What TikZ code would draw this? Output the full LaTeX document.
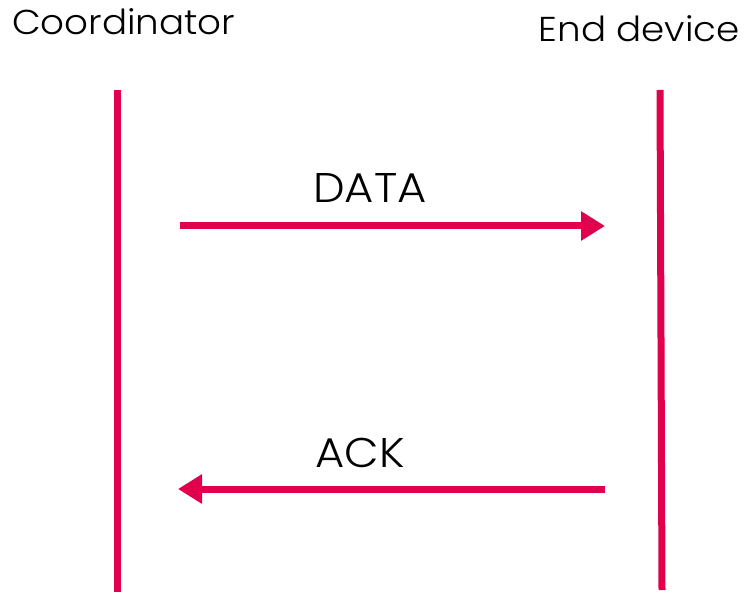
\documentclass[tikz,border=0pt]{standalone}
\usepackage{fontspec}
\setmainfont{Poppins Light}[FakeStretch=1.08]
\usetikzlibrary{arrows.meta}
\definecolor{crim}{HTML}{E0004D}
\tikzset{
  lifeline/.style={draw=crim, line width=7pt},
  msg/.style={draw=crim, line width=7pt, -{Triangle[length=24pt,width=28pt]}},
  title/.style={font=\fontsize{34.5}{36}\selectfont, inner sep=0pt, text=black},
  lbl/.style={font=\fontsize{41.5}{44}\selectfont, inner sep=0pt, text=black}
}
\begin{document}
\begin{tikzpicture}[x=1pt,y=1pt]
\useasboundingbox (0,0) rectangle (744,595);
\node[title, anchor=base west] (coord) at (12,560) {Coordinator};
\node[title, anchor=base east] (enddev) at (740,553) {End device};
\coordinate (lt) at (117,505);
\coordinate (lb) at (117,3);
\coordinate (rt) at (660,505);
\coordinate (rb) at (662,5);
\draw[lifeline] (lt) -- (lb);
\draw[lifeline] (rt) -- (rb);
\coordinate (d1) at (180,369);
\coordinate (d2) at (605,369);
\draw[msg] (d1) -- (d2);
\node[lbl, anchor=base] (data) at (370,392) {DATA};
\coordinate (a1) at (605,106);
\coordinate (a2) at (178,106);
\draw[msg] (a1) -- (a2);
\node[lbl, anchor=base] (ack) at (360,128) {ACK};
\end{tikzpicture}
\end{document}
